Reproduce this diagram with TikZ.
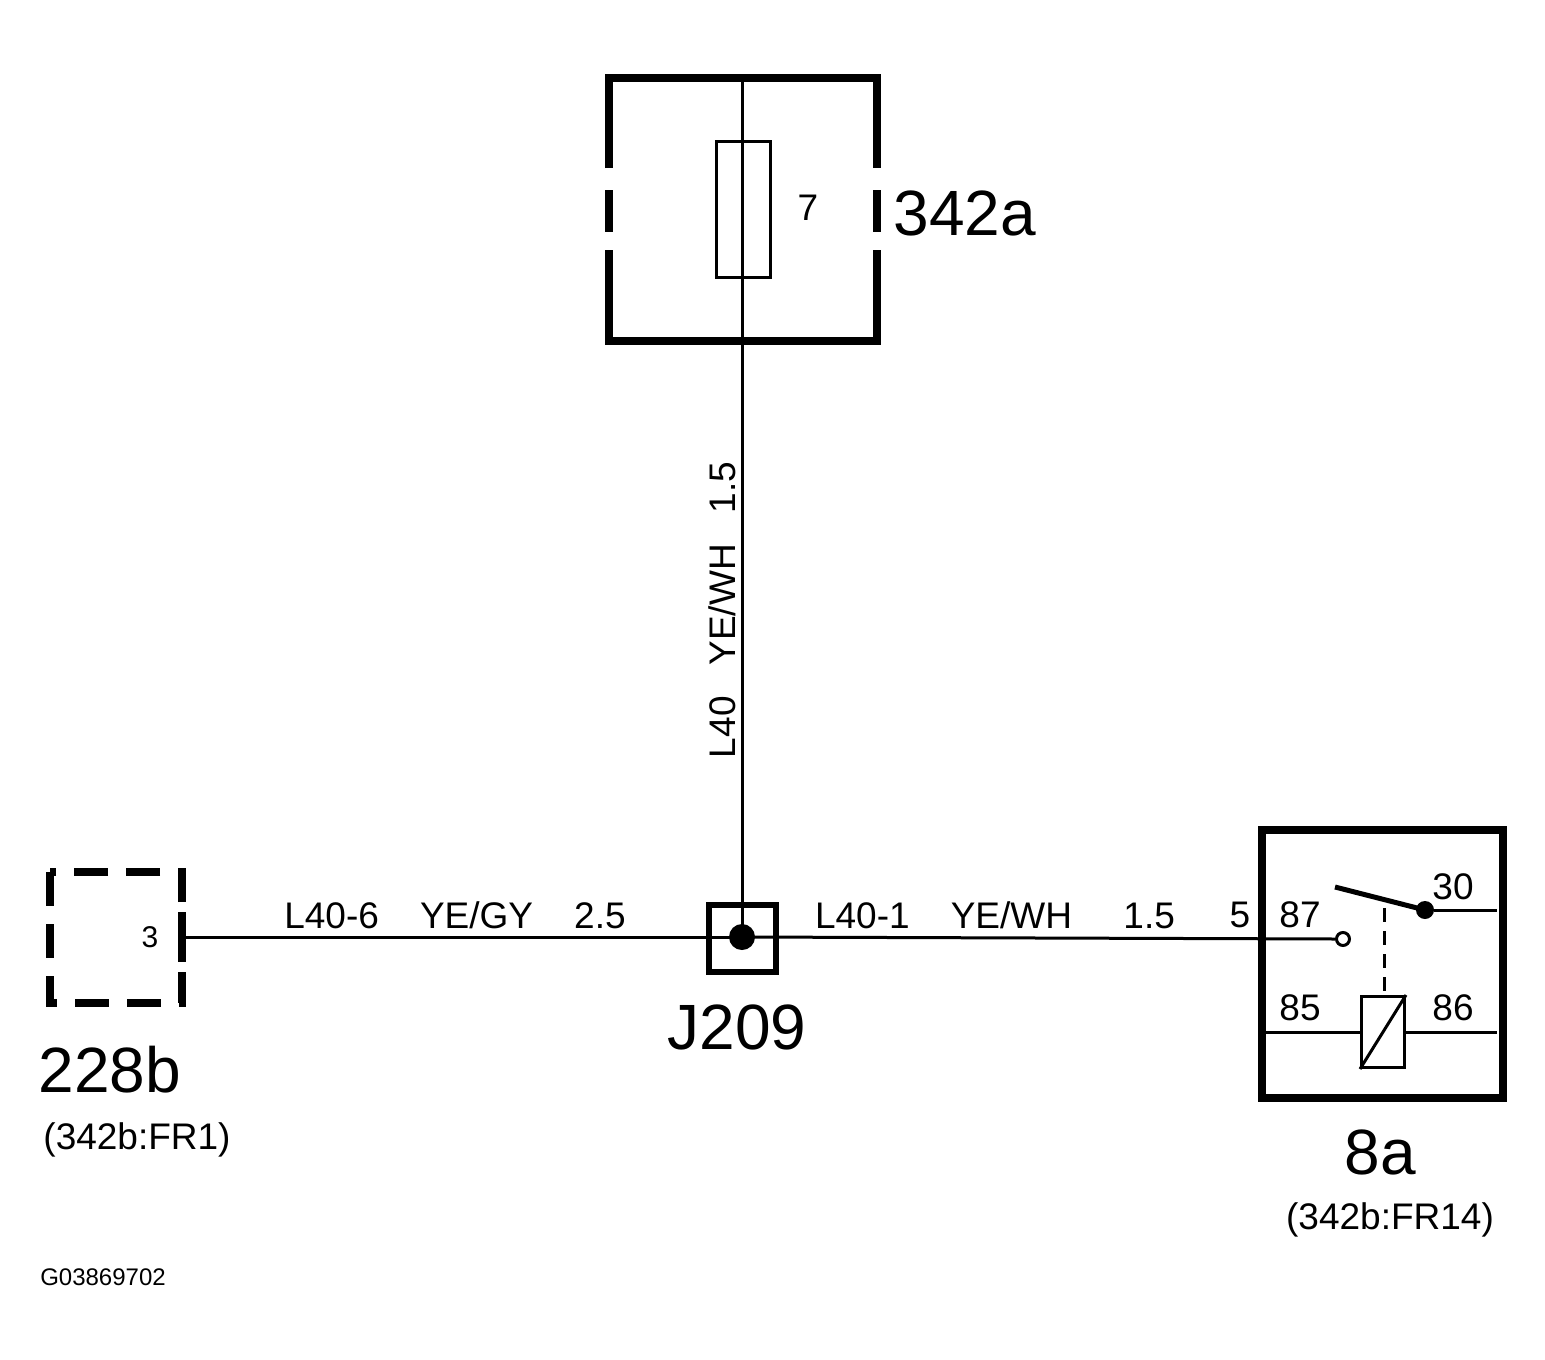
\documentclass[tikz,border=0pt]{standalone}
\usepackage{fontspec}
\setmainfont{Liberation Sans}
\begin{document}
\begin{tikzpicture}[x=1pt,y=-1pt,
 thick box/.style={line width=8pt},
 wire/.style={line width=3pt},
 big/.style={font=\fontsize{64}{64}\selectfont,inner sep=0},
 mid/.style={font=\fontsize{37}{37}\selectfont,inner sep=0},
 sml/.style={font=\fontsize{30}{30}\selectfont,inner sep=0}]
\useasboundingbox[fill=white] (0,0) rectangle (1545,1360);
% fuse box
\draw[thick box] (609,168) -- (609,78) -- (877,78) -- (877,168);
\draw[thick box] (609,190) -- (609,232) (877,190) -- (877,232);
\draw[thick box] (609,250) -- (609,341) -- (877,341) -- (877,250);
\draw[wire] (716,141) rectangle (770,277);
\coordinate (ftop) at (742,82);
\node[mid] (f7) at (808,208) {7};
\node[big] (l342a) at (965,213) {342a};
% J209
\draw[line width=6pt] (709,905) rectangle (776,972);
\node[circle,fill,inner sep=0,minimum size=26pt] (j) at (742,937) {};
\node[big] (lj) at (737,1027) {J209};
\draw[wire] (ftop) -- (j.center);
\node[mid,rotate=90] (lv) at (722,610) {L40\ \ \ YE/WH\ \ \ 1.5};
% 228b
\draw[line width=8pt,dash pattern=on 34pt off 18pt] (50,872) rectangle (182,1003);
\draw[line width=8pt] (182,912) -- (182,962);
\node[sml] (p3) at (150,937) {3};
\coordinate (c3) at (182,937);
\draw[wire] (c3) -- (j.center);
\node[mid] (w1) at (455,915) {L40-6\ \ \ \ YE/GY\ \ \ \ 2.5};
\node[big] (l228) at (110,1070) {228b};
\node[mid] (r228) at (137,1140) {(342b:FR1)};
% relay
\draw[thick box] (1262,830) rectangle (1503,1098);
\node[circle,draw,line width=3pt,inner sep=0,minimum size=13pt,fill=white] (n87) at (1343,939) {};
\draw[wire] (j.center) -- (n87.west);
\node[circle,fill,inner sep=0,minimum size=18pt] (n30) at (1425,910) {};
\coordinate (r30) at (1497,910);
\draw[line width=5pt] (1335,887) -- (n30.center);
\draw[wire] (n30) -- (r30);
\draw[wire,dash pattern=on 14pt off 9pt] (1384,908) -- (1384,997);
\node[draw,line width=3pt,minimum width=43pt,minimum height=71pt,inner sep=0] (coil) at (1383,1032) {};
\draw[wire] (coil.south west) -- (coil.north east);
\coordinate (r85) at (1266,1032);
\coordinate (r86) at (1497,1032);
\draw[wire] (r85) -- (coil.west) (coil.east) -- (r86);
\node[mid] (w2) at (995,915) {L40-1\ \ \ \ YE/WH\ \ \ \ \ 1.5};
\node[mid] (p5) at (1240,915) {5};
\node[mid] (p87) at (1300,915) {87};
\node[mid] (p30) at (1453,887) {30};
\node[mid] (p85) at (1300,1008) {85};
\node[mid] (p86) at (1453,1008) {86};
\node[big] (l8a) at (1380,1152) {8a};
\node[mid] (r8a) at (1390,1220) {(342b:FR14)};
\node[font=\fontsize{24}{24}\selectfont,inner sep=0] (g) at (103,1277) {G03869702};
\end{tikzpicture}
\end{document}
